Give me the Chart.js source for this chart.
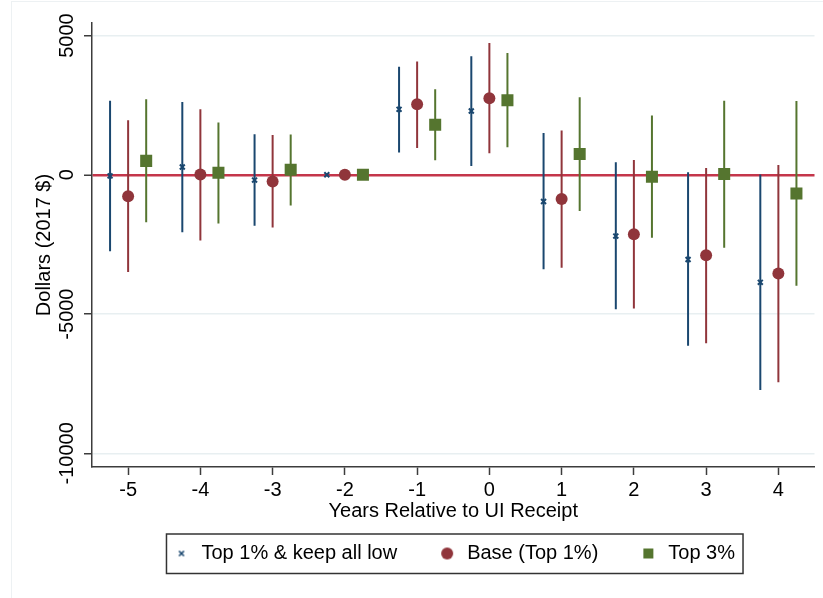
<!DOCTYPE html>
<html>
<head>
<meta charset="utf-8">
<script src="https://cdn.jsdelivr.net/npm/chart.js@4.4.1/dist/chart.umd.min.js"></script>
<style>
  body { margin: 0; background: #fff; }
  #wrap { position: relative; width: 823px; height: 598px; overflow: hidden; }
  #frame { position: absolute; left: 11px; top: 1px; right: -5px; bottom: -5px; border: 1px solid #edf1f3; }
  canvas { position: absolute; left: 0; top: 0; }
</style>
</head>
<body>
<div id="wrap">
  <div id="frame"></div>
  <canvas id="graphic" width="823" height="598"></canvas>
</div>
<script>
//years relative to UI receipt
const years = [-5, -4, -3, -2, -1, 0, 1, 2, 3, 4];
const yTicks = [-10000, -5000, 0, 5000];

//Top 1% & keep all low (estimate + 95% CI)
const keepLowCoef = [-40, 280, -190, 0, 2350, 2290, -960, -2200, -3040, -3860];
const keepLowLo = [-2740, -2060, -1830, 0, 800, 320, -3390, -4830, -6140, -7730];
const keepLowHi = [2660, 2610, 1460, 0, 3880, 4260, 1500, 450, 90, 10];

//Base (Top 1%)
const baseCoef = [-770, 10, -240, 0, 2530, 2750, -870, -2130, -2890, -3540];
const baseLo = [-3490, -2360, -1890, 0, 960, 770, -3340, -4800, -6050, -7450];
const baseHi = [1960, 2350, 1430, 0, 4070, 4730, 1590, 530, 240, 350];

//Top 3%
const top3Coef = [500, 70, 180, 0, 1800, 2680, 750, -70, 30, -670];
const top3Lo = [-1700, -1750, -1100, 0, 520, 990, -1300, -2260, -2620, -3980];
const top3Hi = [2710, 1880, 1450, 0, 3070, 4370, 2780, 2130, 2660, 2650];

const NAVY = '#1a476f';
const MAROON = '#90353b';
const GREEN = '#55752f';
const FONT = '"Liberation Sans", Arial, Helvetica, sans-serif';

//each series sits a bit left / right of its year
const shift = [-0.25, 0, 0.25];

function points(coef, s) {
    return years.map((yr, i) => ({x: yr + shift[s], y: coef[i]}));
}

//vertical CI segments, broken up by null points
function ciSegments(lo, hi, s) {
    let out = [];
    for (let i = 0; i < years.length; i++) {
        out.push({x: years[i] + shift[s], y: lo[i]});
        out.push({x: years[i] + shift[s], y: hi[i]});
        out.push({x: years[i] + shift[s], y: null});
    }
    return out;
}

//small canvases so the legend markers keep their own sizes
function legendMarker(kind, color) {
    const c = document.createElement('canvas');
    c.width = 14; c.height = 14;
    const g = c.getContext('2d');
    g.fillStyle = color;
    g.strokeStyle = color;
    if (kind === 'x') {
        g.lineWidth = 1.6;
        g.beginPath();
        g.moveTo(4.5, 4.5); g.lineTo(9.5, 9.5);
        g.moveTo(9.5, 4.5); g.lineTo(4.5, 9.5);
        g.stroke();
    } else if (kind === 'circle') {
        g.beginPath();
        g.arc(7, 7, 6, 0, Math.PI * 2);
        g.fill();
    } else {
        g.fillRect(2, 2, 10, 10);
    }
    return c;
}

const legendFrame = {
    id: 'legendFrame',
    afterDraw(chart) {
        const boxes = chart.legend.legendHitBoxes;
        if (!boxes || !boxes.length) return;
        const first = boxes[0];
        const last = boxes[boxes.length - 1];
        const ctx = chart.ctx;
        const left = first.left - 5;
        const right = last.left + last.width + 8;
        ctx.save();
        ctx.strokeStyle = '#333';
        ctx.lineWidth = 1.5;
        ctx.strokeRect(left, first.top - 9.5, right - left, first.height + 19.5);
        ctx.restore();
    }
};

const config = {
    type: 'scatter',
    data: {
        datasets: [{
            label: 'Top 1% & keep all low',
            data: points(keepLowCoef, 0),
            pointStyle: 'crossRot',
            pointRadius: 3.5,
            borderColor: NAVY,
            backgroundColor: NAVY,
            borderWidth: 2,
            legendMarker: legendMarker('x', NAVY)
        }, {
            label: 'Base (Top 1%)',
            data: points(baseCoef, 1),
            pointStyle: 'circle',
            pointRadius: 6,
            borderWidth: 0,
            borderColor: MAROON,
            backgroundColor: MAROON,
            legendMarker: legendMarker('circle', MAROON)
        }, {
            label: 'Top 3%',
            data: points(top3Coef, 2),
            pointStyle: 'rect',
            pointRadius: 8.5,
            borderWidth: 0,
            borderColor: GREEN,
            backgroundColor: GREEN,
            legendMarker: legendMarker('rect', GREEN)
        }, {
            type: 'line', label: 'ci0', data: ciSegments(keepLowLo, keepLowHi, 0),
            borderColor: NAVY, borderWidth: 2, pointRadius: 0, spanGaps: false
        }, {
            type: 'line', label: 'ci1', data: ciSegments(baseLo, baseHi, 1),
            borderColor: MAROON, borderWidth: 2, pointRadius: 0, spanGaps: false
        }, {
            type: 'line', label: 'ci2', data: ciSegments(top3Lo, top3Hi, 2),
            borderColor: GREEN, borderWidth: 2, pointRadius: 0, spanGaps: false
        }]
    },
    options: {
        responsive: false,
        animation: false,
        events: [],
        layout: {padding: {left: 0, right: 8, top: 23, bottom: 24.5}},
        scales: {
            x: {
                type: 'linear',
                min: -5.5,
                max: 4.5,
                afterBuildTicks: scale => { scale.ticks = years.map(v => ({value: v})); },
                afterFit: scale => { scale.height = 36.5; },
                ticks: {
                    color: '#000',
                    padding: 3,
                    font: {family: FONT, size: 20},
                    callback: v => String(v)
                },
                grid: {drawOnChartArea: false, drawTicks: true, tickLength: 8, tickColor: '#3c3c3c', tickWidth: 1.5},
                border: {display: true, color: '#3c3c3c', width: 1.5},
                title: {
                    display: true,
                    text: 'Years Relative to UI Receipt',
                    color: '#000',
                    font: {family: FONT, size: 20},
                    padding: {top: 0, bottom: -19.5}
                }
            },
            y: {
                min: -10490,
                max: 5450,
                afterBuildTicks: scale => { scale.ticks = yTicks.map(v => ({value: v})); },
                afterFit: scale => { scale.width = 92; },
                ticks: {
                    color: '#000',
                    minRotation: 90,
                    maxRotation: 90,
                    crossAlign: 'center',
                    padding: -14.5,
                    font: {family: FONT, size: 20},
                    callback: v => String(v)
                },
                grid: {
                    color: c => (c.tick && c.tick.value === 0) ? '#c4364b' : '#e8eff1',
                    lineWidth: c => (c.tick && c.tick.value === 0) ? 2.5 : 1.5,
                    drawTicks: true,
                    tickLength: 8,
                    tickColor: '#3c3c3c',
                    tickWidth: 1.5
                },
                border: {display: true, color: '#3c3c3c', width: 1.5},
                title: {
                    display: true,
                    text: 'Dollars (2017 $)',
                    color: '#000',
                    font: {family: FONT, size: 20},
                    padding: {top: 32, bottom: 0}
                }
            }
        },
        plugins: {
            tooltip: {enabled: false},
            legend: {
                position: 'bottom',
                fullSize: false,
                labels: {
                    color: '#000',
                    font: {family: FONT, size: 20},
                    usePointStyle: true,
                    pointStyleWidth: 20,
                    padding: 40,
                    filter: item => !item.text.startsWith('ci'),
                    generateLabels: chart => chart.data.datasets.map((ds, i) => ({
                        text: ds.label,
                        datasetIndex: i,
                        pointStyle: ds.legendMarker || 'line',
                        fillStyle: ds.backgroundColor,
                        strokeStyle: ds.borderColor,
                        lineWidth: 0,
                        hidden: false,
                        fontColor: '#000'
                    }))
                }
            }
        }
    },
    plugins: [legendFrame]
};

const myChart = new Chart(document.getElementById('graphic'), config);
</script>
</body>
</html>
